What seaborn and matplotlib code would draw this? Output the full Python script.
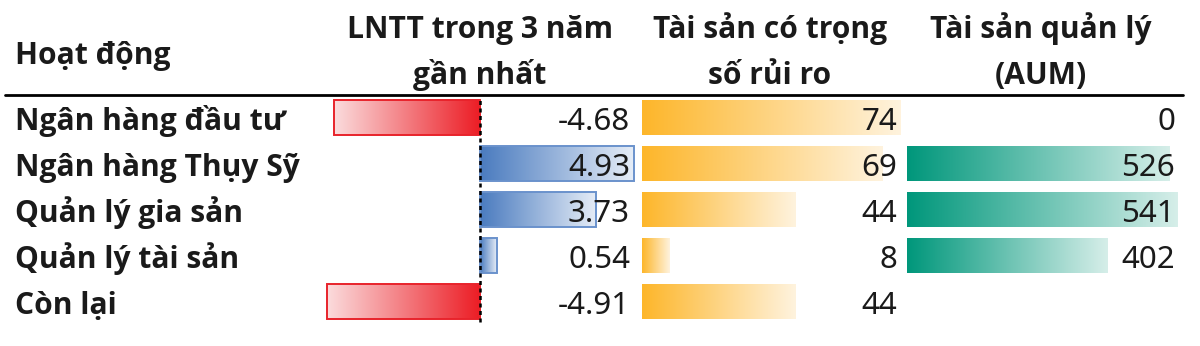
import numpy as np
import matplotlib
matplotlib.use("Agg")
import matplotlib.pyplot as plt
import seaborn as sns
from matplotlib.colors import LinearSegmentedColormap
from matplotlib.lines import Line2D
from matplotlib.transforms import blended_transform_factory

# ---------------- data ----------------
categories = ["Ngân hàng đầu tư", "Ngân hàng Thụy Sỹ", "Quản lý gia sản",
              "Quản lý tài sản", "Còn lại"]
lntt = [-4.68, 4.93, 3.73, 0.54, -4.91]
rwa = [74, 69, 44, 8, 44]
aum = [0, 526, 541, 402, np.nan]
lntt_labels = ["-4.68", "4.93", "3.73", "0.54", "-4.91"]
rwa_labels = ["74", "69", "44", "8", "44"]
aum_labels = ["0", "526", "541", "402", ""]
header_activity = "Hoạt động"
header_lntt = ["LNTT trong 3 năm", "gần nhất"]
header_rwa = ["Tài sản có trọng", "số rủi ro"]
header_aum = ["Tài sản quản lý", "(AUM)"]

# ---------------- style ----------------
sns.set_theme(style="white")
plt.rcParams["font.family"] = ["Noto Sans", "Lato", "DejaVu Sans"]
BOLD_FAM = ["Open Sans", "Lato", "DejaVu Sans"]
TXT = "#1a1a1a"
FS = 21.6    # bold labels / headers
FSN = 22.5   # numbers

W, H = 1200, 346
fig = plt.figure(figsize=(12, 3.46), dpi=100)
fig.patch.set_facecolor("white")

Y_TOP, Y_BOT = 94.5, 324.5


def px_axes(x0, x1):
    ax = fig.add_axes([x0 / W, 1 - Y_BOT / H, (x1 - x0) / W, (Y_BOT - Y_TOP) / H])
    ax.set_facecolor("none")
    return ax


def gradient_bars(ax, solid_pos, light_pos, solid_neg=None, light_neg=None,
                  edge_pos=None, edge_neg=None):
    grad = np.linspace(0, 1, 256).reshape(1, -1)
    for p in list(ax.patches):
        w = p.get_width()
        if w is None or np.isnan(w) or w == 0:
            p.set_visible(False)
            continue
        x0, y0, h = p.get_x(), p.get_y(), p.get_height()
        neg = w < 0
        c1, c2 = (solid_neg, light_neg) if neg else (solid_pos, light_pos)
        cmap = LinearSegmentedColormap.from_list("g", [c1, c2])
        im = ax.imshow(grad, cmap=cmap, aspect="auto",
                       extent=[x0, x0 + w, y0 + h, y0], zorder=1,
                       interpolation="bilinear")
        im.set_clip_path(p)
        ec = edge_neg if neg else edge_pos
        p.set_facecolor("none")
        if ec is not None:
            p.set_edgecolor(ec)
            p.set_linewidth(1.4)
        else:
            p.set_edgecolor("none")
        p.set_zorder(2)


def finish(ax, xlim):
    ax.set_xlim(*xlim)
    ax.set_ylim(4.5, -0.5)
    ax.axis("off")


BASE = 0.27  # baseline offset below row centre (rows)

# ---- row labels ----
ax0 = px_axes(0, 320)
tr0 = blended_transform_factory(ax0.transAxes, ax0.transData)
for i, c in enumerate(categories):
    ax0.text(15 / 320, i + BASE, c, transform=tr0, ha="left", va="baseline",
             fontsize=FS, fontweight="bold", family=BOLD_FAM, color=TXT)
finish(ax0, (0, 1))

# ---- LNTT ----
ax1 = px_axes(320, 640)
sns.barplot(x=lntt, y=categories, orient="h", width=0.78, color="#5b87c5",
            ax=ax1)
gradient_bars(ax1, "#4a7bbf", "#e6edf7", "#ec1c24", "#fbdcdd",
              edge_pos="#6a92cc", edge_neg="#e8232b")
ax1.axvline(0, ymin=0.011, ymax=0.976, color="black", lw=1.8,
            dashes=(1.6, 1.4), zorder=3)
finish(ax1, (-160 / 31.2, 160 / 31.2))
tr1 = blended_transform_factory(ax1.transAxes, ax1.transData)
for i, t in enumerate(lntt_labels):
    ax1.text(310 / 320, i + BASE, t, transform=tr1, ha="right", va="baseline",
             fontsize=FSN, color=TXT, zorder=4)

# ---- RWA ----
ax2 = px_axes(642, 905)
sns.barplot(x=rwa, y=categories, orient="h", width=0.78, color="#fdb92a",
            ax=ax2)
gradient_bars(ax2, "#fdb62a", "#fff3de")
finish(ax2, (0, 263 / 3.49))
tr2 = blended_transform_factory(ax2.transAxes, ax2.transData)
for i, t in enumerate(rwa_labels):
    ax2.text(255 / 263, i + BASE, t, transform=tr2, ha="right", va="baseline",
             fontsize=FSN, color=TXT, zorder=4)

# ---- AUM ----
ax3 = px_axes(907, 1185)
sns.barplot(x=aum, y=categories, orient="h", width=0.78, color="#009a7e",
            ax=ax3)
gradient_bars(ax3, "#00977b", "#d6eee9")
finish(ax3, (0, 278 / 0.5))
tr3 = blended_transform_factory(ax3.transAxes, ax3.transData)
for i, t in enumerate(aum_labels):
    ax3.text(268 / 278, i + BASE, t, transform=tr3, ha="right", va="baseline",
             fontsize=FSN, color=TXT, zorder=4)

# ---- headers ----
def ftext(x, y, s, ha="center"):
    fig.text(x / W, 1 - y / H, s, ha=ha, va="baseline", fontsize=FS,
             fontweight="bold", family=BOLD_FAM, color=TXT)

ftext(15, 64, header_activity, ha="left")
for xc, lines in [(480, header_lntt), (770, header_rwa), (1041, header_aum)]:
    ftext(xc, 38, lines[0])
    ftext(xc, 84, lines[1])

fig.add_artist(Line2D([5 / W, 1183 / W], [1 - 95 / H, 1 - 95 / H],
                      transform=fig.transFigure, color="black", lw=2))

fig.savefig("out.png", dpi=100)
